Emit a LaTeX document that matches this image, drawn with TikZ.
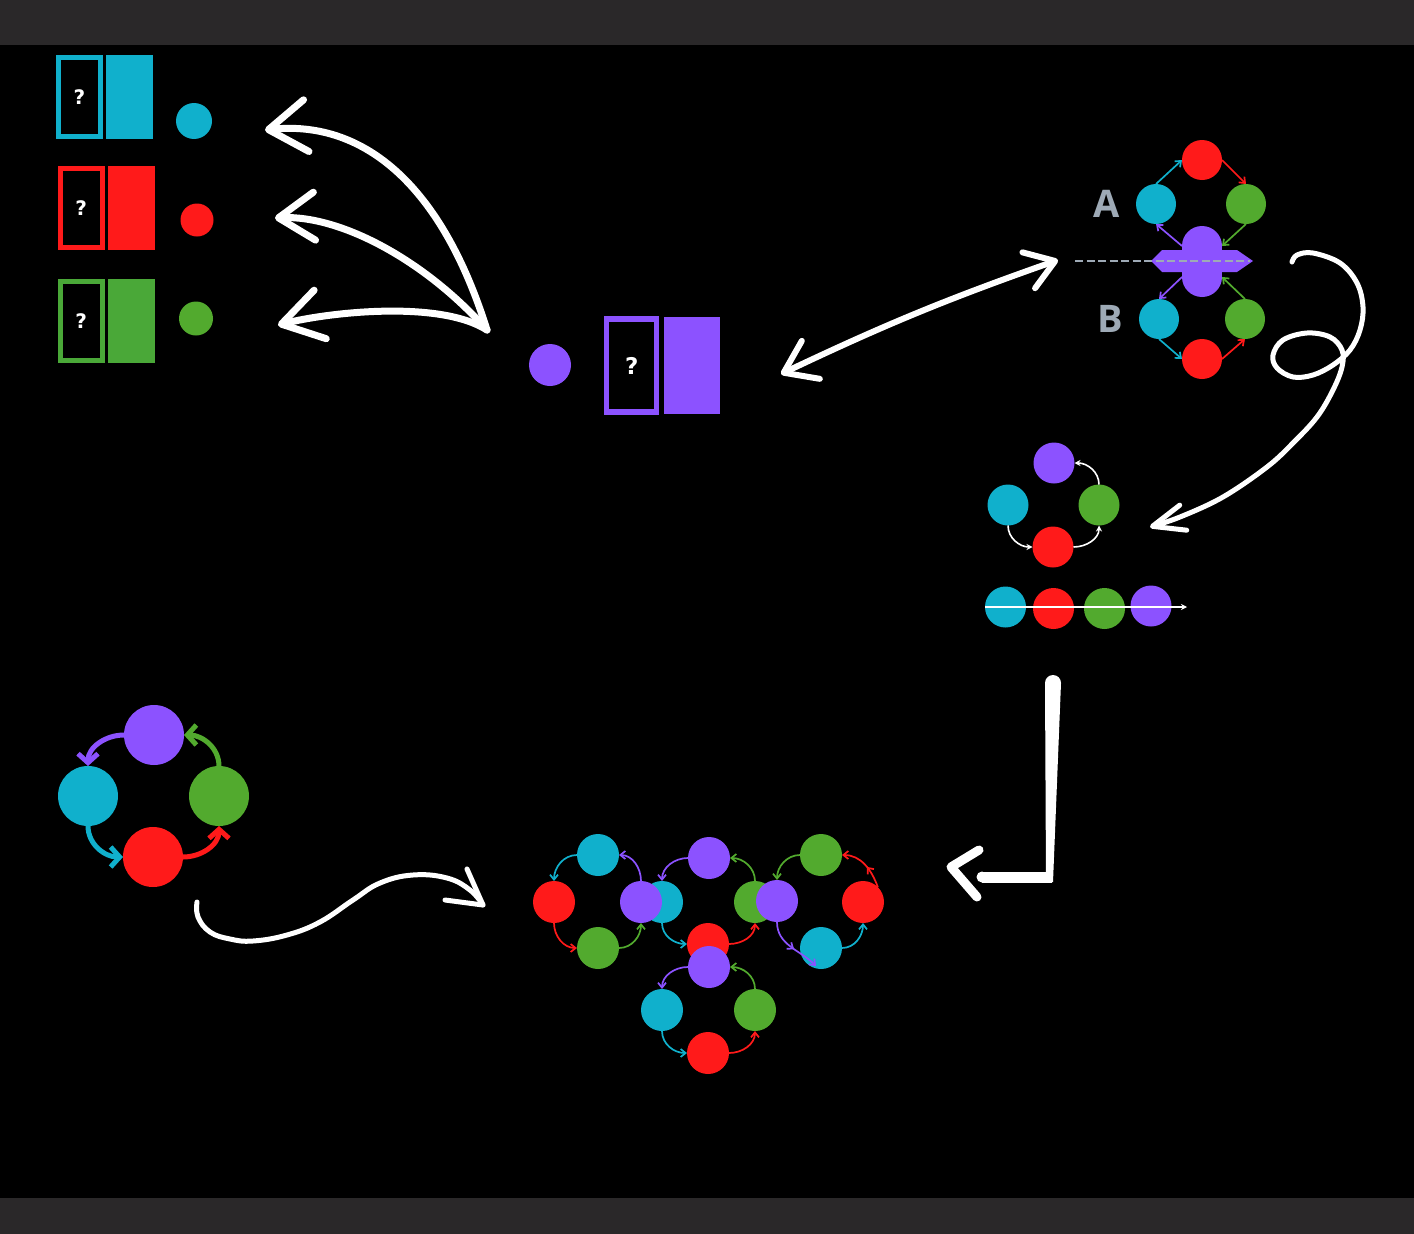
\documentclass[tikz,border=0pt]{standalone}
\usepackage{fontspec}
\usepackage{tikz}
\usetikzlibrary{arrows.meta}
\usetikzlibrary{positioning}
\usetikzlibrary{decorations.markings}

\newfontfamily\qmarkfont{DejaVu Sans}
\newfontfamily\labelfont{Open Sans}

\definecolor{qcyan}{RGB}{16,176,204}
\definecolor{qred}{RGB}{255,26,26}
\definecolor{qgreen}{RGB}{82,170,46}
\definecolor{qboxgreen}{RGB}{74,168,56}
\definecolor{qpurple}{RGB}{140,82,255}
\definecolor{qgray}{RGB}{158,170,182}
\definecolor{qbar}{RGB}{42,40,41}

\begin{document}
\begin{tikzpicture}[x=1pt,y=-1pt,
	every node/.style={inner sep=0pt,outer sep=0pt},
	ball/.style={circle,fill=#1,minimum size=42pt},
	bigball/.style={circle,fill=#1,minimum size=60pt},
	qframe/.style={draw=#1,line width=5pt,minimum width=42pt,minimum height=79pt,text=white,font=\qmarkfont\bfseries\fontsize{20}{20}\selectfont},
	qfill/.style={fill=#1,minimum width=47pt,minimum height=84pt},
	hand/.style={draw=white,line width=7pt,line cap=round,line join=round},
	link/.style={draw=#1,line width=1.7pt,-{Straight Barb[length=5pt,width=8pt]}},
	wlink/.style={draw=white,line width=1.6pt,-{Stealth[length=6pt,width=6pt]}},
	fat/.style={draw=#1,line width=5pt,-{Straight Barb[length=9pt,width=20pt]}},
	midhead/.style={postaction={decorate},decoration={markings,mark=at position #1 with {\arrow{Straight Barb[length=5pt,width=8pt]}}}}
	]
	\fill[black] (0,0) rectangle (1414,1234);
	\fill[qbar] (0,0) rectangle (1414,45);
	\fill[qbar] (0,1198) rectangle (1414,1234);
	\useasboundingbox (0,0) rectangle (1414,1234);
	
	\node[qframe=qcyan] (qc) at (79.5,97) {?};
	\node[qfill=qcyan,right=5.5pt of qc] (fc) {};
	\node[circle,fill=qcyan,minimum size=36pt] (dc) at (194,121) {};
	
	\node[qframe=qred] (qr) at (81.2,207.7) {?};
	\node[qfill=qred,right=5.5pt of qr] (fr) {};
	\node[circle,fill=qred,minimum size=33pt] (dr) at (197,220) {};
	
	\node[qframe=qboxgreen] (qg) at (81.3,320.7) {?};
	\node[qfill=qboxgreen,right=5.5pt of qg] (fg) {};
	\node[circle,fill=qgreen,minimum size=34pt] (dg) at (196,318.5) {};
	
	\node[circle,fill=qpurple,minimum size=42pt] (dp) at (550,365) {};
	\node[qframe=qpurple,line width=5.3pt,minimum width=50pt,minimum height=93pt,font=\qmarkfont\bfseries\fontsize{23}{23}\selectfont] (qp) at (631.7,365.5) {?};
	\node[qfill=qpurple,minimum width=56pt,minimum height=97.5pt,right=7.6pt of qp] (fp) {};
	
	\coordinate (hub) at (487,330);
	\coordinate (tipc) at (265,130);
	\coordinate (tipr) at (275,218);
	\coordinate (tipg) at (278,325);
	\draw[hand,-{Straight Barb[round,length=38pt,width=52pt]}] (hub) .. controls (440,180) and (360,120) .. (tipc);
	\draw[hand,-{Straight Barb[round,length=36pt,width=48pt]}] (hub) .. controls (425,260) and (340,215) .. (tipr);
	\draw[hand,-{Straight Barb[round,length=40pt,width=50pt]}] (hub) .. controls (440,300) and (330,312) .. (tipg);
	
	\coordinate (dl) at (781,374);
	\coordinate (dr) at (1058,260);
	\draw[hand,line width=6pt,{Straight Barb[round,length=30pt,width=42pt]}-{Straight Barb[round,length=28pt,width=38pt]}] (dl) to[bend left=3] (dr);
	
	% the two cycles A and B
	\fill[qpurple] (1151,261) -- (1162,250) -- (1237,250) -- (1253,261) -- (1237,272) -- (1162,272) -- cycle;
	\node[ball=qpurple,minimum size=40pt] (pa) at (1202,246) {};
	\node[ball=qpurple,minimum size=40pt] (pb) at (1202,277) {};
	\fill[qpurple] (pa.west) rectangle (pb.east);
	\node[ball=qred,minimum size=40pt] (ra) at (1202,160) {};
	\node[ball=qcyan,minimum size=40pt] (ca) at (1156,204) {};
	\node[ball=qgreen,minimum size=40pt] (ga) at (1246,204) {};
	\node[ball=qcyan,minimum size=40pt] (cb) at (1159,319) {};
	\node[ball=qgreen,minimum size=40pt] (gb) at (1245,319) {};
	\node[ball=qred,minimum size=40pt] (rb) at (1202,359) {};
	\coordinate (cutl) at (1075,261);
	\coordinate (cutr) at (1250,261);
	\draw[qgray,line width=2.7pt,dash pattern=on 8pt off 3.5pt] (cutl) -- (cutr);
	\node[text=qgray,font=\labelfont\bfseries\fontsize{38}{38}\selectfont] (la) at (1107,204) {A};
	\node[text=qgray,font=\labelfont\bfseries\fontsize{38}{38}\selectfont] (lb) at (1110,319) {B};
	\draw[link=qcyan] (ca.north) -- (ra.west);
	\draw[link=qred] (ra.east) -- (ga.north);
	\draw[link=qgreen] (ga.south) -- (pa.east);
	\draw[link=qpurple] (pa.west) -- (ca.south);
	\draw[link=qpurple] (pb.west) -- (cb.north);
	\draw[link=qcyan] (cb.south) -- (rb.west);
	\draw[link=qred] (rb.east) -- (gb.south);
	\draw[link=qgreen] (gb.north) -- (pb.east);
	
	\coordinate (cstart) at (1292,262);
	\coordinate (cend) at (1150,527);
	\draw[hand,line width=5pt,-{Straight Barb[round,length=32pt,width=26pt]}] plot[smooth,tension=0.6] coordinates {(cstart) (1297,255) (1313,253) (1340,263) (1357,283) (1363,307) (1360,330) (1350,350) (1333,365) (1313,375) (1293,377) (1277,368) (1273,355) (1283,340) (1307,333) (1330,337) (1342,350) (1342,367) (1333,390) (1317,417) (1293,443) (1267,467) (1223,497) (1180,517) (cend)};
	
	\node[ball=qpurple,minimum size=41pt] (pm) at (1054,463) {};
	\node[ball=qcyan,minimum size=41pt] (cm) at (1008,505) {};
	\node[ball=qgreen,minimum size=41pt] (gm) at (1099,505) {};
	\node[ball=qred,minimum size=41pt] (rm) at (1053,547) {};
	\draw[wlink] (cm.south) to[out=-90,in=180] (rm.west);
	\draw[wlink] (rm.east) to[out=0,in=-90] (gm.south);
	\draw[wlink] (gm.north) to[out=90,in=0] (pm.east);
	
	\node[ball=qcyan,minimum size=41pt] (rowc) at (1005.5,607) {};
	\node[ball=qred,minimum size=41pt] (rowr) at (1053.5,608.5) {};
	\node[ball=qgreen,minimum size=41pt] (rowg) at (1104.5,608.5) {};
	\node[ball=qpurple,minimum size=41pt] (rowp) at (1151,606) {};
	\coordinate (rowend) at (1187,607);
	\draw[wlink,line width=1.8pt] (rowc.west) -- (rowend);
	
	\coordinate (ltop) at (1053,683);
	\coordinate (lend) at (982,877);
	\coordinate (ltip) at (951,867);
	\fill[white] (ltop) circle[radius=8pt];
	\fill[white] (1045,683) -- (1061,683) -- (1053,882) -- (1046,882) -- cycle;
	\draw[white,line width=11pt] (1052,877) -- (lend);
	\fill[white] (lend) circle[radius=5.5pt];
	\draw[white,line width=9pt,line join=round,line cap=round] (979,850) -- (ltip) -- (977,897);
	
	\node[bigball=qpurple] (bp) at (154,735) {};
	\node[bigball=qcyan] (bc) at (88,796) {};
	\node[bigball=qgreen] (bg) at (219,796) {};
	\node[bigball=qred] (br) at (153,857) {};
	\draw[fat=qpurple] (bp.west) to[out=180,in=90] (bc.north);
	\draw[fat=qcyan] (bc.south) to[out=-90,in=180] (br.west);
	\draw[fat=qred] (br.east) to[out=0,in=-90] (bg.south);
	\draw[fat=qgreen] (bg.north) to[out=90,in=0] (bp.east);
	
	\coordinate (wstart) at (197,902);
	\coordinate (wend) at (483,905);
	\draw[hand,line width=5pt] plot[smooth,tension=0.7] coordinates {(wstart) (198,917) (210,932) (230,939) (253,941) (287,935) (320,922) (353,900) (380,883) (413,875) (447,878) (470,890) (wend)};
	\draw[hand,line width=5pt] (467,869) -- (wend) -- (445,900);
	
	% four linked cycles
	\node[ball=qpurple] (p2) at (709,858) {};
	\node[ball=qcyan] (c2) at (662,902) {};
	\node[ball=qred] (r2) at (708,944) {};
	\node[ball=qgreen] (g2) at (755,902) {};
	\draw[link=qpurple] (p2.west) to[out=180,in=90] (c2.north);
	\draw[link=qcyan] (c2.south) to[out=-90,in=180] (r2.west);
	\draw[link=qred] (r2.east) to[out=0,in=-90] (g2.south);
	\draw[link=qgreen] (g2.north) to[out=90,in=0] (p2.east);
	
	\node[ball=qcyan] (c1) at (598,855) {};
	\node[ball=qred] (r1) at (554,902) {};
	\node[ball=qgreen] (g1) at (598,948) {};
	\node[ball=qpurple] (p1) at (641,902) {};
	\draw[link=qcyan] (c1.west) to[out=180,in=90] (r1.north);
	\draw[link=qred] (r1.south) to[out=-90,in=180] (g1.west);
	\draw[link=qgreen] (g1.east) to[out=0,in=-90] (p1.south);
	\draw[link=qpurple] (p1.north) to[out=90,in=0] (c1.east);
	
	\node[ball=qgreen] (g3) at (821,855) {};
	\node[ball=qpurple] (p3) at (777,901) {};
	\node[ball=qcyan] (c3) at (821,948) {};
	\node[ball=qred] (r3) at (863,902) {};
	\coordinate (p3end) at (816,966);
	\draw[link=qgreen] (g3.west) to[out=180,in=90] (p3.north);
	\draw[link=qpurple,midhead=0.55] (p3.south) to[out=-90,in=135] (p3end);
	\draw[link=qcyan] (c3.east) to[out=0,in=-90] (r3.south);
	\draw[link=qred,midhead=0.45] (r3.north east) to[out=110,in=0] (g3.east);
	
	\node[ball=qpurple] (p4) at (709,967) {};
	\node[ball=qcyan] (c4) at (662,1010) {};
	\node[ball=qred] (r4) at (708,1053) {};
	\node[ball=qgreen] (g4) at (755,1010) {};
	\draw[link=qpurple] (p4.west) to[out=180,in=90] (c4.north);
	\draw[link=qcyan] (c4.south) to[out=-90,in=180] (r4.west);
	\draw[link=qred] (r4.east) to[out=0,in=-90] (g4.south);
	\draw[link=qgreen] (g4.north) to[out=90,in=0] (p4.east);
\end{tikzpicture}
\end{document}
